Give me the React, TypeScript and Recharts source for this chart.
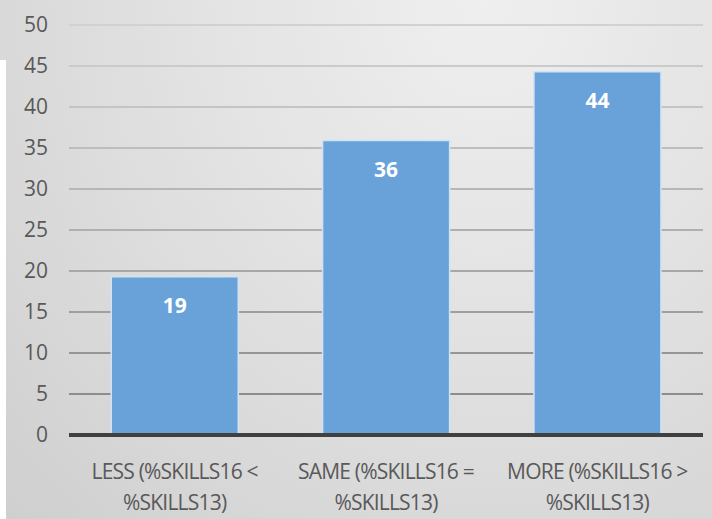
import React from 'react';
import { BarChart, Bar, XAxis, YAxis, CartesianGrid, LabelList } from 'recharts';

const categories = ['LESS', 'SAME', 'MORE'];
const labelLine1 = ['LESS (%SKILLS16 <', 'SAME (%SKILLS16 =', 'MORE (%SKILLS16 >'];
const labelLine2 = ['%SKILLS13)', '%SKILLS13)', '%SKILLS13)'];
const values = [19.3, 35.9, 44.3];
const yTicks = [0, 5, 10, 15, 20, 25, 30, 35, 40, 45, 50];

const data = categories.map((c, i) => ({ name: c, value: values[i], i }));

const FONT = '"Open Sans", "Liberation Sans", sans-serif';

const XTick = (props: any) => {
  const { x, y, payload } = props;
  const idx = categories.indexOf(payload.value);
  return (
    <text x={x} textAnchor="middle" fill="#595959" fontFamily={FONT} fontSize={21} letterSpacing={-0.8}>
      <tspan x={x} y={y + 42}>{labelLine1[idx]}</tspan>
      <tspan x={x} y={y + 73}>{labelLine2[idx]}</tspan>
    </text>
  );
};

export default function App() {
  return (
    <div style={{ position: 'absolute', left: 0, top: 0, width: 712, height: 519, background: '#ffffff' }}>
      <div style={{ position: 'absolute', left: 0, top: 0, width: 6, height: 60, background: '#d9d9d9' }} />
      <div
        style={{
          position: 'absolute',
          left: 6,
          top: 0,
          width: 706,
          height: 519,
          background: 'radial-gradient(ellipse farthest-corner at 68% 0%, #efefef 0%, #e2e2e2 45%, #cfcfcf 100%)',
        }}
      />
      <div style={{ position: 'absolute', left: 0, top: 0 }}>
        <BarChart
          width={712}
          height={519}
          data={data}
          margin={{ top: 25, right: 9, bottom: 0, left: 0 }}
          barCategoryGap="20%"
        >
          <defs>
            <linearGradient id="gridGrad" gradientUnits="userSpaceOnUse" x1="0" y1="20" x2="0" y2="440">
              <stop offset="0%" stopColor="#d2d2d2" />
              <stop offset="50%" stopColor="#b0b0b0" />
              <stop offset="100%" stopColor="#838383" />
            </linearGradient>
          </defs>
          <CartesianGrid vertical={false} stroke="url(#gridGrad)" strokeWidth={2} />
          <XAxis
            dataKey="name"
            height={84}
            tickLine={false}
            tickSize={0}
            axisLine={{ stroke: '#404040', strokeWidth: 4 }}
            tick={<XTick />}
            interval={0}
          />
          <YAxis
            width={69}
            domain={[0, 50]}
            ticks={yTicks}
            tickLine={false}
            axisLine={false}
            tickSize={0}
            tickMargin={21}
            tick={{ fill: '#595959', fontFamily: FONT, fontSize: 21 }}
            interval={0}
          />
          <Bar dataKey="value" fill="#68a2d9" stroke="#cfe3f5" strokeWidth={1.5} isAnimationActive={false}>
            <LabelList
              dataKey="value"
              position="insideTop"
              offset={21}
              formatter={(v: any) => Math.round(Number(v))}
              fill="#ffffff"
              fontFamily={FONT}
              fontWeight="bold"
              fontSize={21}
            />
          </Bar>
        </BarChart>
      </div>
    </div>
  );
}
